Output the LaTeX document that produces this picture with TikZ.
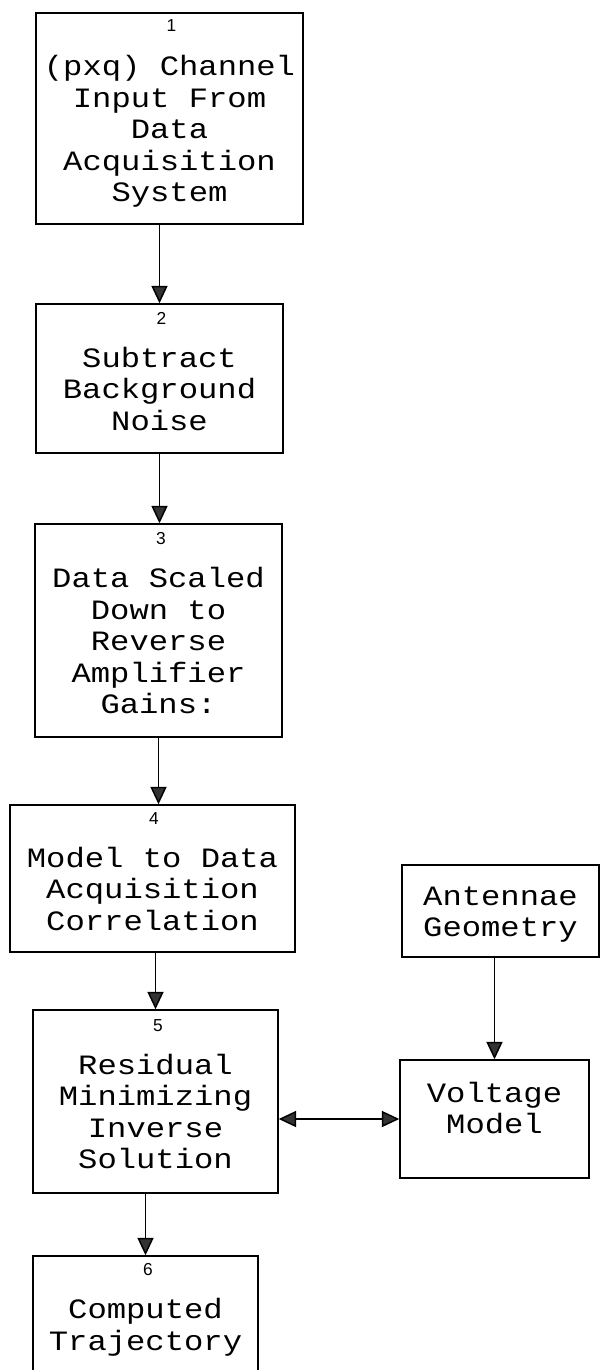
\documentclass[tikz,border=0pt]{standalone}
\usepackage{fontspec}
\setmonofont[FakeStretch=1.15]{Liberation Mono}
\newfontfamily\numfont{Liberation Sans}
\usetikzlibrary{arrows.meta}
\begin{document}
\begin{tikzpicture}[x=0.75pt,y=-0.75pt,
  box/.style={draw=black, line width=1.1pt, rectangle, inner sep=0pt},
  txt/.style={align=center, anchor=base, inner sep=0pt, font=\ttfamily\fontsize{21}{23.6}\selectfont},
  num/.style={font=\numfont\fontsize{13}{14}\selectfont, inner sep=0pt},
  arr/.style={line width=1.1pt, -{Triangle[length=13pt,width=12pt,fill=black!80]}},
  darr/.style={line width=1.1pt, {Triangle[length=13pt,width=12pt,fill=black!80]}-{Triangle[length=13pt,width=12pt,fill=black!80]}}
]
\fill[white] (0,0) rectangle (601,1370);
\useasboundingbox (0,0) rectangle (601,1370);
\clip (0,0) rectangle (601,1370);

% boxes
\node[box, minimum width=200.25pt, minimum height=158.25pt] (b1) at (169.5,118.5) {};
\node[box, minimum width=185.25pt, minimum height=111.75pt] (b2) at (159.5,378.5) {};
\node[box, minimum width=185.25pt, minimum height=159.75pt] (b3) at (158.5,630.5) {};
\node[box, minimum width=213.75pt, minimum height=110.25pt] (b4) at (152.5,878.5) {};
\node[box, minimum width=183.75pt, minimum height=137.25pt] (b5) at (155.5,1101.5) {};
\node[box, minimum width=168.75pt, minimum height=108pt] (b6) at (145.5,1328) {};
\node[box, minimum width=147.75pt, minimum height=69pt] (ant) at (500.5,911) {};
\node[box, minimum width=141.75pt, minimum height=88.5pt] (volt) at (494.5,1119) {};

% numbers
\node[num] (n1) at (171.5,25.5) {1};
\node[num] (n2) at (161.5,318.5) {2};
\node[num] (n3) at (161,538.5) {3};
\node[num] (n4) at (154,818.5) {4};
\node[num] (n5) at (158,1025.5) {5};
\node[num] (n6) at (148,1269.5) {6};

% texts (anchored at the baseline of the last line)
\node[txt] (t1) at (169.5,201.5) {(pxq) Channel\\Input From\\Data\\Acquisition\\System};
\node[txt] (t2) at (159.5,430) {Subtract\\Background\\Noise};
\node[txt] (t3) at (158.5,713.5) {Data Scaled\\Down to\\Reverse\\Amplifier\\Gains:};
\node[txt] (t4) at (152.5,930) {Model to Data\\Acquisition\\Correlation};
\node[txt] (t5) at (155.5,1168.5) {Residual\\Minimizing\\Inverse\\Solution};
\node[txt] (t6) at (145.5,1350) {Computed\\Trajectory};
\node[txt] (t7) at (500.5,936.5) {Antennae\\Geometry};
\node[txt] (t8) at (494.5,1133.5) {Voltage\\Model};

% connectors
\draw[arr] (b1.south -| b2.north) -- (b2.north);
\draw[arr] (b2.south) -- (b3.north -| b2.south);
\draw[arr] (b3.south) -- (b3.south |- b4.north);
\draw[arr] (b4.south -| b5.north) -- (b5.north);
\draw[arr] (b5.south -| b6.north) -- (b6.north);
\draw[arr] (ant.south -| volt.north) -- (volt.north);
\draw[darr] (volt.west -| b5.east) -- (volt.west);
\end{tikzpicture}
\end{document}
